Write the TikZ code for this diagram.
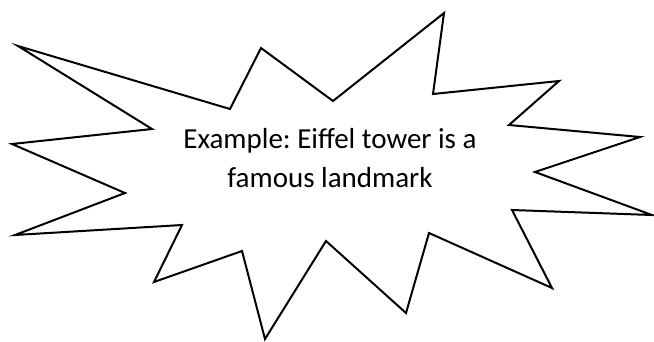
\documentclass[tikz,border=0pt]{standalone}
\usepackage{fontspec}
\setmainfont{Carlito}
\frenchspacing
\begin{document}
\begin{tikzpicture}[
  x=1pt, y=-1pt,
  burst/.style={draw=black, line width=2pt, line join=miter, fill=white},
  bursttext/.style={font=\fontsize{29}{39}\selectfont, align=center, inner sep=0pt},
]
% picture frame: 654 x 341, y grows downward
\useasboundingbox (0,0) rectangle (654,341);
% starburst outline, clockwise from the top-left spike
\draw[burst] (18,46) -- (230,109) -- (261,48) -- (333,101) -- (444,13)
  -- (433,94) -- (559,81) -- (509,125) -- (640,137) -- (535,172)
  -- (652,215) -- (512,210) -- (552,288) -- (429,233) -- (406,313)
  -- (326,241) -- (265,339) -- (242,251) -- (154,282) -- (182,225)
  -- (15,235) -- (125,193) -- (12,144) -- (152,129) -- cycle;
% anchor=base sits on the baseline of the last line
\node[bursttext, anchor=base] (label) at (330,187)
  {Example: Eiffel tower is a\\famous landmark};
\end{tikzpicture}
\end{document}
